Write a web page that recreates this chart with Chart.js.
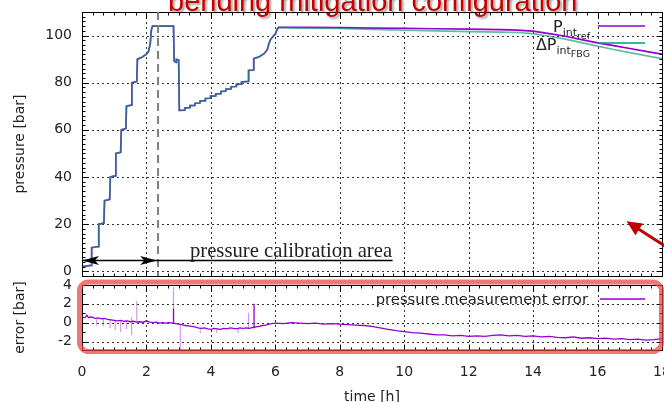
<!DOCTYPE html>
<html>
<head>
<meta charset="utf-8">
<script src="https://cdn.jsdelivr.net/npm/chart.js@4/dist/chart.umd.min.js"></script>
<style>
  html, body { margin: 0; padding: 0; background: #fff; }
  #wrap { position: relative; width: 664px; height: 402px; overflow: hidden; background: #fff; }
  #pressure-chart { position: absolute; left: 0; top: 0; }
  #error-chart { position: absolute; left: 0; top: 275px; }
  #title {
    position: absolute; left: 168px; top: -13px; white-space: nowrap;
    font: 29px/29px "Liberation Sans", Arial, sans-serif; color: #c80000;
    text-shadow: 2px 2px 2px rgba(0, 0, 0, 0.35);
  }
</style>
</head>
<body>
<div id="wrap">
  <canvas id="pressure-chart" width="700" height="290"></canvas>
  <canvas id="error-chart" width="700" height="133"></canvas>
  <div id="title">bending mitigation configuration</div>
</div>
<script>
// --- data (time in h, pressure/error in bar) ---

const timeTicks = [0, 2, 4, 6, 8, 10, 12, 14, 16, 18];
const pressureTicks = [0, 20, 40, 60, 80, 100];
const errorTicks = [-2, 0, 2, 4];

// pressure ramp, identical for both sensors up to ~6 h
const rampTime = [
  0.00, 0.28, 0.30, 0.50, 0.52, 0.68, 0.70, 0.86, 0.88, 1.03,
  1.05, 1.20, 1.22, 1.36, 1.38, 1.53, 1.55, 1.70, 1.72, 1.86,
  1.99, 2.06, 2.12, 2.15, 2.19, 2.84, 2.86, 2.92, 2.93, 3.00,
  3.02, 3.18, 3.19, 3.34, 3.35, 3.50, 3.51, 3.66, 3.67, 3.82,
  3.83, 3.98, 3.99, 4.14, 4.15, 4.30, 4.31, 4.46, 4.47, 4.62,
  4.63, 4.78, 4.79, 4.94, 4.95, 5.16, 5.17, 5.32, 5.33, 5.50,
  5.65, 5.75, 5.80, 5.85, 5.95, 6.00, 6.05, 6.10
];
const rampPressure = [
  2.0, 2.5, 10.0, 10.5, 20.0, 20.5, 30.0, 30.5, 40.0, 40.5,
  50.0, 50.5, 60.0, 60.5, 70.0, 70.5, 80.0, 80.5, 90.0, 90.8,
  92.0, 93.1, 96.7, 102.3, 104.0, 104.0, 89.2, 88.6, 89.9, 89.6,
  68.3, 68.4, 69.3, 69.4, 70.3, 70.4, 71.3, 71.4, 72.3, 72.4,
  73.3, 73.4, 74.3, 74.4, 75.3, 75.4, 76.3, 76.4, 77.3, 77.4,
  78.3, 78.4, 79.3, 79.4, 80.3, 80.6, 85.2, 85.4, 90.2, 91.0,
  92.3, 94.0, 96.5, 98.3, 100.0, 100.6, 102.5, 103.5
];

// hold phase, where the two curves separate
const holdTime = [6.5, 7, 8, 9, 10, 11, 12, 13, 13.5, 14, 14.5, 15, 15.5, 16, 16.5, 17, 17.5, 18];
const holdRef = [103.5, 103.5, 103.4, 103.2, 103.1, 102.9, 102.7, 102.5, 102.3, 101.9, 100.8, 99.7, 98.3, 96.9, 95.7, 94.5, 93.3, 92.1];
const holdFbg = [103.3, 103.2, 103.0, 102.6, 102.3, 102.0, 101.7, 101.5, 101.3, 100.8, 99.7, 98.5, 97.0, 95.5, 94.1, 92.8, 91.5, 90.2];

// pressure measurement error
const errTime = [
  0.0, 0.1, 0.15, 0.2, 0.3, 0.4, 0.5, 0.6, 0.7, 0.8, 0.9,
  1.0, 1.1, 1.2, 1.3, 1.4, 1.5, 1.6, 1.7, 1.8, 1.9,
  2.0, 2.1, 2.2, 2.3, 2.4, 2.5, 2.6, 2.7, 2.8, 2.84, 2.84, 2.84, 2.9,
  3.0, 3.1, 3.2, 3.3, 3.4, 3.5, 3.6, 3.7, 3.8, 3.9,
  4.0, 4.1, 4.2, 4.3, 4.4, 4.5, 4.6, 4.7, 4.8, 4.9,
  5.0, 5.1, 5.2, 5.3, 5.34, 5.34, 5.34, 5.4, 5.5, 5.6, 5.7, 5.8, 5.9,
  6.0, 6.25, 6.5, 6.75, 7.0, 7.25, 7.5, 7.75, 8.0, 8.25, 8.5, 8.75,
  9.0, 9.25, 9.5, 9.75, 10.0, 10.25, 10.5, 10.75, 11.0, 11.25, 11.5, 11.75,
  12.0, 12.25, 12.5, 12.75, 13.0, 13.25, 13.5, 13.75, 14.0, 14.25, 14.5, 14.75,
  15.0, 15.25, 15.5, 15.75, 16.0, 16.25, 16.5, 16.75, 17.0, 17.25, 17.5, 17.75, 18.0
];
const errValue = [
  0.50, 0.55, 0.80, 0.55, 0.60, 0.45, 0.50, 0.40, 0.45, 0.35, 0.30,
  0.25, 0.20, 0.25, 0.15, 0.20, 0.10, 0.15, 0.05, 0.10, 0.05,
  0.20, 0.05, 0.00, 0.05, -0.05, 0.00, -0.05, 0.00, -0.05, -0.05, 1.50, -0.05, -0.10,
  -0.15, -0.20, -0.30, -0.35, -0.40, -0.45, -0.55, -0.60, -0.55, -0.65,
  -0.70, -0.60, -0.65, -0.70, -0.60, -0.65, -0.55, -0.60, -0.65, -0.55,
  -0.60, -0.55, -0.60, -0.50, -0.50, 2.00, -0.50, -0.45, -0.40, -0.30, -0.25, -0.15, -0.10,
  -0.05, -0.10, 0.00, -0.05, -0.10, -0.05, -0.15, -0.10, -0.15, -0.20, -0.25, -0.30,
  -0.40, -0.55, -0.70, -0.85, -0.95, -1.05, -1.10, -1.20, -1.30, -1.30, -1.40, -1.35,
  -1.45, -1.40, -1.45, -1.35, -1.30, -1.40, -1.35, -1.45, -1.40, -1.50, -1.45, -1.55,
  -1.60, -1.50, -1.65, -1.60, -1.70, -1.65, -1.75, -1.70, -1.80, -1.75, -1.85, -1.80, -1.70
];

// thin, faint spikes on the error trace
const spikeTime = [0.45, 0.66, 0.87, 1.03, 1.20, 1.38, 1.54, 1.70, 2.84, 3.05, 3.67, 4.18, 4.85, 5.17];
const spikeFrom = [0.45, 0.40, 0.30, 0.25, 0.25, 0.18, 0.60, 0.05, -0.05, -0.15, -0.60, -0.65, -0.60, -0.60];
const spikeTo = [-0.3, -0.4, -0.6, -0.8, -1.0, -0.7, -1.3, 2.3, 3.8, -2.9, -1.1, -1.1, -1.1, 1.05];

// annotation positions (data units)
const calibrationEnd = 2.33;
const calibrationMark = 2.36;
const calibrationLevel = 4.7;
const calibrationUnderlineEnd = 9.64;
const calibrationTextStart = 3.35;
const redArrowTip = { x: 16.9, y: 21.2 };

const PURPLE = '#9400d3';
const TEAL = '#009e73';
const TEXT = '#222';
const FONT = 'DejaVu Sans';

function toPoints(xs, ys) {
  return xs.map((x, i) => ({ x: x, y: ys[i] }));
}

function spikePoints() {
  const pts = [];
  spikeTime.forEach((t, i) => {
    pts.push({ x: t, y: spikeFrom[i] }, { x: t, y: spikeTo[i] }, { x: t, y: null });
  });
  return pts;
}

// --- gnuplot-like frame: dotted grid, box, inward ticks on all sides ---

const gnuFrame = {
  id: 'gnuFrame',
  beforeDatasetsDraw(chart, args, opts) {
    const { ctx, chartArea: a, scales: { x, y } } = chart;
    ctx.save();
    ctx.strokeStyle = '#333';
    ctx.lineWidth = 1;
    ctx.setLineDash([2, 3]);
    ctx.beginPath();
    opts.xGrid.forEach(v => {
      const px = Math.round(x.getPixelForValue(v)) + 0.5;
      ctx.moveTo(px, a.top); ctx.lineTo(px, a.bottom);
    });
    opts.yGrid.forEach(v => {
      const py = Math.round(y.getPixelForValue(v)) + 0.5;
      ctx.moveTo(a.left, py); ctx.lineTo(a.right, py);
    });
    ctx.stroke();
    ctx.restore();
  },
  afterDatasetsDraw(chart, args, opts) {
    const { ctx, chartArea: a, scales: { x, y } } = chart;
    const L = Math.round(a.left) + 0.5, R = Math.round(a.right) + 0.5;
    const T = Math.round(a.top) + 0.5, B = Math.round(a.bottom) + 0.5;
    ctx.save();
    ctx.strokeStyle = '#000';
    ctx.lineWidth = 1;
    ctx.beginPath();
    const xTick = (v, len) => {
      const px = Math.round(x.getPixelForValue(v)) + 0.5;
      ctx.moveTo(px, B); ctx.lineTo(px, B - len);
      ctx.moveTo(px, T); ctx.lineTo(px, T + len);
    };
    const yTick = (v, len) => {
      const py = Math.round(y.getPixelForValue(v)) + 0.5;
      ctx.moveTo(L, py); ctx.lineTo(L + len, py);
      ctx.moveTo(R, py); ctx.lineTo(R - len, py);
    };
    for (let k = 0; k * opts.xMinor <= x.max + 1e-6; k++) xTick(k * opts.xMinor, 3);
    for (let k = Math.ceil(y.min / opts.yMinor); k * opts.yMinor <= y.max + 1e-6; k++) yTick(k * opts.yMinor, 3);
    timeTicks.forEach(v => xTick(v, 6));
    opts.yMajor.forEach(v => yTick(v, 6));
    ctx.stroke();
    ctx.strokeRect(L, T, R - L, B - T);
    ctx.restore();
  }
};

function drawLegendSample(ctx, x0, x1, y, color) {
  ctx.save();
  ctx.strokeStyle = color;
  ctx.lineWidth = 1.5;
  ctx.beginPath();
  ctx.moveTo(x0, y); ctx.lineTo(x1, y);
  ctx.stroke();
  ctx.restore();
}

// text with a subscript and a sub-subscript, right aligned at xRight
function drawSubLabel(ctx, parts, xRight, baseline) {
  let width = 0;
  parts.forEach(p => { ctx.font = p[1] + 'px "' + FONT + '"'; width += ctx.measureText(p[0]).width; });
  let x = xRight - width;
  ctx.fillStyle = TEXT;
  ctx.textAlign = 'left';
  ctx.textBaseline = 'alphabetic';
  parts.forEach(p => {
    ctx.font = p[1] + 'px "' + FONT + '"';
    ctx.fillText(p[0], x, baseline + p[2]);
    x += ctx.measureText(p[0]).width;
  });
}

function arrowHead(ctx, tipX, tipY, dx, dy, len, half) {
  const bx = tipX - dx * len, by = tipY - dy * len;
  const nx = -dy, ny = dx;
  ctx.beginPath();
  ctx.moveTo(tipX, tipY);
  ctx.lineTo(bx + nx * half, by + ny * half);
  ctx.lineTo(tipX - dx * len * 0.75, tipY - dy * len * 0.75);
  ctx.lineTo(bx - nx * half, by - ny * half);
  ctx.closePath();
  ctx.fill();
}

const pressureOverlay = {
  id: 'pressureOverlay',
  afterDraw(chart) {
    const { ctx, chartArea: a, scales: { x, y } } = chart;
    ctx.save();

    // calibration boundary
    const mx = x.getPixelForValue(calibrationMark);
    ctx.strokeStyle = '#808080';
    ctx.lineWidth = 2;
    ctx.setLineDash([8, 5]);
    ctx.beginPath();
    ctx.moveTo(mx, a.top); ctx.lineTo(mx, a.bottom);
    ctx.stroke();
    ctx.setLineDash([]);

    // calibration arrow + underline
    const ay = Math.round(y.getPixelForValue(calibrationLevel)) + 0.5;
    const x0 = x.getPixelForValue(0), x1 = x.getPixelForValue(calibrationEnd);
    ctx.strokeStyle = '#000';
    ctx.fillStyle = '#000';
    ctx.lineWidth = 1.3;
    ctx.beginPath();
    ctx.moveTo(x0, ay); ctx.lineTo(x.getPixelForValue(calibrationUnderlineEnd), ay);
    ctx.stroke();
    arrowHead(ctx, x0, ay, -1, 0, 17, 4.5);
    arrowHead(ctx, x1, ay, 1, 0, 17, 4.5);

    const tx0 = x.getPixelForValue(calibrationTextStart);
    const tw = x.getPixelForValue(calibrationUnderlineEnd) - tx0;
    const label = 'pressure calibration area';
    ctx.font = '18px "Liberation Serif"';
    const size = 18 * tw / ctx.measureText(label).width;
    ctx.font = size.toFixed(1) + 'px "Liberation Serif"';
    ctx.fillStyle = TEXT;
    ctx.textBaseline = 'alphabetic';
    ctx.fillText(label, tx0, ay - 4);

    // legend
    const lx0 = a.right - 64, lx1 = a.right - 17;
    drawSubLabel(ctx, [['P', 16, 0], ['int', 11, 3.5], ['ref', 9.5, 6.5]], a.right - 72, a.top + 20);
    drawLegendSample(ctx, lx0, lx1, a.top + 14, PURPLE);
    drawSubLabel(ctx, [['ΔP', 16, 0], ['int', 11, 3.5], ['FBG', 9.5, 6.5]], a.right - 72, a.top + 38);
    drawLegendSample(ctx, lx0, lx1, a.top + 31, TEAL);

    // red pointer arrow
    const px = x.getPixelForValue(redArrowTip.x), py = y.getPixelForValue(redArrowTip.y);
    const dx = -0.84, dy = -0.54;
    ctx.strokeStyle = '#c00000';
    ctx.fillStyle = '#c00000';
    ctx.lineWidth = 3;
    ctx.beginPath();
    ctx.moveTo(px - dx * 60, py - dy * 60);
    ctx.lineTo(px - dx * 10, py - dy * 10);
    ctx.stroke();
    ctx.beginPath();
    ctx.moveTo(px, py);
    ctx.lineTo(px - dx * 15 - dy * 7, py - dy * 15 + dx * 7);
    ctx.lineTo(px - dx * 15 + dy * 7, py - dy * 15 - dx * 7);
    ctx.closePath();
    ctx.fill();

    ctx.restore();
  }
};

const errorOverlay = {
  id: 'errorOverlay',
  afterDraw(chart) {
    const { ctx, chartArea: a } = chart;
    ctx.save();
    ctx.font = '14.8px "' + FONT + '"';
    ctx.fillStyle = TEXT;
    ctx.textAlign = 'right';
    ctx.textBaseline = 'alphabetic';
    ctx.fillText('pressure measurement error', a.right - 74, a.top + 19);
    drawLegendSample(ctx, a.right - 62, a.right - 17, a.top + 14, PURPLE);

    // red highlight box around the error panel
    ctx.strokeStyle = 'rgba(236, 60, 60, 0.7)';
    ctx.lineWidth = 5;
    ctx.beginPath();
    ctx.roundRect(a.left - 2.5, a.top - 3, a.right - a.left + 2, a.bottom - a.top + 4.5, 9);
    ctx.stroke();
    ctx.restore();
  }
};

const tickFont = { family: FONT, size: 14, lineHeight: 1 };
const titleFont = { family: FONT, size: 14 };

new Chart(document.getElementById('pressure-chart'), {
  type: 'line',
  data: {
    datasets: [
      {
        label: 'P_int_ref',
        data: toPoints(rampTime.concat(holdTime), rampPressure.concat(holdRef)),
        borderColor: PURPLE,
        borderWidth: 1.7,
        order: 2
      },
      {
        label: 'ΔP_int_FBG',
        data: toPoints(rampTime.concat(holdTime), rampPressure.concat(holdFbg)),
        borderColor: 'rgba(0, 158, 115, 0.65)',
        borderWidth: 1.7,
        order: 1
      }
    ]
  },
  options: {
    responsive: false,
    animation: false,
    layout: { padding: { top: 12, right: 38, bottom: 14, left: 0 } },
    elements: { point: { radius: 0 }, line: { tension: 0 } },
    plugins: {
      legend: { display: false },
      tooltip: { enabled: false },
      gnuFrame: { xGrid: [2, 4, 6, 8, 10, 12, 14, 16], yGrid: pressureTicks, yMajor: pressureTicks, xMinor: 1 / 3, yMinor: 2 }
    },
    scales: {
      x: { type: 'linear', min: 0, max: 18, display: false },
      y: {
        min: -2, max: 110,
        afterFit: s => { s.width = 82; },
        afterBuildTicks: s => { s.ticks = pressureTicks.map(v => ({ value: v })); },
        grid: { display: false, drawTicks: true, tickLength: 10 },
        border: { display: false },
        ticks: { padding: 0, color: TEXT, font: tickFont },
        title: { display: true, text: 'pressure [bar]', color: TEXT, font: titleFont, padding: { top: 12, bottom: 0 } }
      }
    }
  },
  plugins: [gnuFrame, pressureOverlay]
});

new Chart(document.getElementById('error-chart'), {
  type: 'line',
  data: {
    datasets: [
      {
        label: 'pressure measurement error',
        data: toPoints(errTime, errValue),
        borderColor: PURPLE,
        borderWidth: 1.3
      },
      {
        label: 'spikes',
        data: spikePoints(),
        borderColor: 'rgba(148, 0, 211, 0.4)',
        borderWidth: 1.2,
        spanGaps: false
      }
    ]
  },
  options: {
    responsive: false,
    animation: false,
    layout: { padding: { top: 10, right: 38, bottom: 0, left: 0 } },
    elements: { point: { radius: 0 }, line: { tension: 0 } },
    plugins: {
      legend: { display: false },
      tooltip: { enabled: false },
      gnuFrame: { xGrid: [2, 4, 6, 8, 10, 12, 14, 16], yGrid: [-2, 0, 2], yMajor: errorTicks, xMinor: 1 / 3, yMinor: 1 }
    },
    scales: {
      x: {
        type: 'linear', min: 0, max: 18,
        afterFit: s => { s.height = 58; },
        afterBuildTicks: s => { s.ticks = timeTicks.map(v => ({ value: v })); },
        grid: { display: false, drawTicks: true, tickLength: 15 },
        border: { display: false },
        ticks: { padding: 0, color: TEXT, font: tickFont, maxRotation: 0, autoSkip: false },
        title: { display: true, text: 'time [h]', color: TEXT, font: titleFont, padding: { top: 0, bottom: 2 } }
      },
      y: {
        min: -2.9, max: 4,
        afterFit: s => { s.width = 82; },
        afterBuildTicks: s => { s.ticks = errorTicks.map(v => ({ value: v })); },
        grid: { display: false, drawTicks: true, tickLength: 10 },
        border: { display: false },
        ticks: { padding: 0, color: TEXT, font: tickFont },
        title: { display: true, text: 'error [bar]', color: TEXT, font: titleFont, padding: { top: 12, bottom: 0 } }
      }
    }
  },
  plugins: [gnuFrame, errorOverlay]
});
</script>
</body>
</html>
